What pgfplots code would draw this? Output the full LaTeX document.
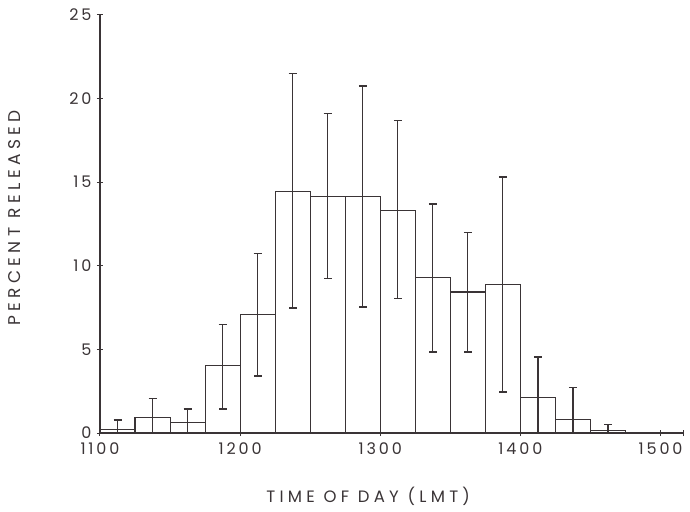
\documentclass[border=0pt]{standalone}
\usepackage{pgfplots}
\pgfplotsset{compat=1.18}
\usepackage{fontspec}
\setmainfont[LetterSpace=18]{Poppins}
\newfontfamily\labfont[LetterSpace=26]{Poppins}
\definecolor{ink}{HTML}{3A3436}
\begin{document}
\begin{tikzpicture}
\path[use as bounding box] (-100pt,-78pt) rectangle (590pt,433pt);
\begin{axis}[
  at={(0pt,0pt)}, anchor=south west,
  scale only axis, width=583pt, height=418pt,
  xmin=1100, xmax=1516, ymin=0, ymax=25,
  axis lines=left, axis line style={-, ink, line width=1.1pt},
  xtick={1100,1200,1300,1400,1500},
  extra x ticks={1516}, extra x tick labels={},
  ytick={0,5,10,15,20,25},
  tick align=center, major tick length=6pt,
  tick style={ink, line width=1pt},
  ticklabel style={font=\fontsize{16}{16}\selectfont, text=ink},
  xticklabel style={yshift=-3pt},
  yticklabel style={xshift=-2pt},
  /pgf/number format/.cd, assume math mode=true, set thousands separator={}, /pgfplots/.cd,
  xlabel={TIME OF DAY (LMT)},
  xlabel style={at={(axis description cs:0.46,-0.1507)}, anchor=center, inner sep=0pt, font=\labfont\fontsize{16.5}{16.5}\selectfont, text=ink},
  ylabel={PERCENT RELEASED},
  ylabel style={at={(axis description cs:-0.1458,0.514)}, anchor=center, inner sep=0pt, font=\labfont\fontsize{17}{17}\selectfont, text=ink},
]
\addplot[ybar, bar width=25, bar shift=0pt, draw=ink, fill=none, line width=1.1pt,
  error bars/.cd, y dir=both, y explicit,
  error bar style={ink, line width=1.1pt},
  error mark options={rotate=90, ink, mark size=4pt, line width=1.6pt}]
  table[x=x, y=y, y error plus=ep, y error minus=em] {
x y ep em
1112.5 0.22 0.56 0.22
1137.5 0.92 1.15 0.92
1162.5 0.62 0.80 0.62
1187.5 4.04 2.46 2.59
1212.5 7.08 3.65 3.68
1237.5 14.43 7.07 6.97
1262.5 14.13 4.97 4.88
1287.5 14.13 6.64 6.60
1312.5 13.30 5.40 5.25
1337.5 9.29 4.39 4.43
1362.5 8.43 3.55 3.57
1387.5 8.89 6.41 6.45
1412.5 2.10 2.46 2.10
1437.5 0.80 1.92 0.80
1462.5 0.15 0.35 0.15
};
\end{axis}
\end{tikzpicture}
\end{document}
